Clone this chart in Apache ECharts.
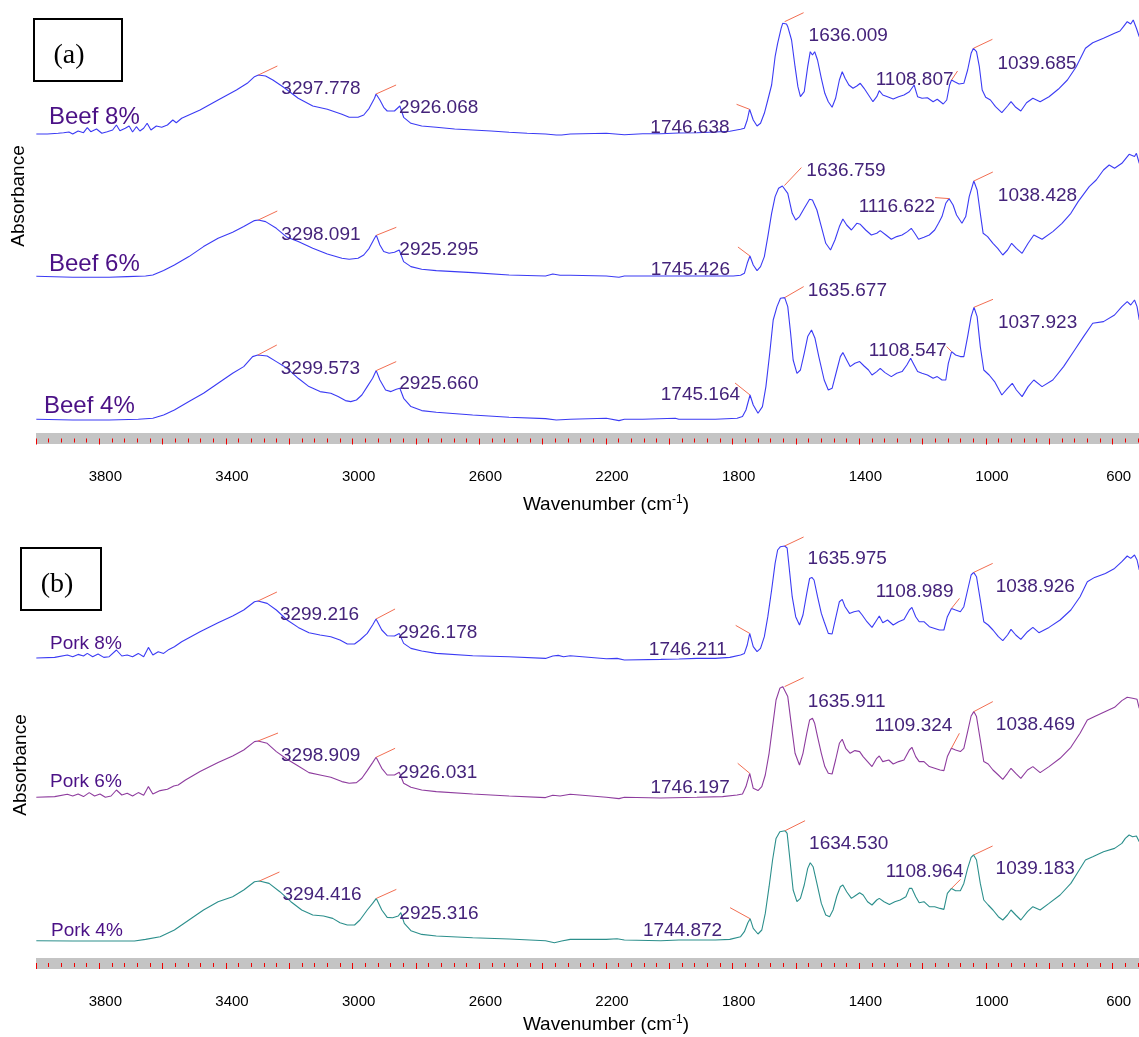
<!DOCTYPE html>
<html>
<head>
<meta charset="utf-8">
<script src="https://cdn.jsdelivr.net/npm/echarts/dist/echarts.min.js"></script>
<style>
  html, body { margin: 0; padding: 0; background: #fff; }
  #chart { width: 1139px; height: 1037px; }
</style>
</head>
<body>
<div id="chart"></div>
<script>
// FTIR spectra, [wavenumber (cm-1), absorbance above each trace's own baseline]

const beef8 = [[3999,0],[3964,0],[3930,0.007],[3913,0.013],[3896,0.02],[3884,0],[3867,0.03],[3850,0.013],[3838,0.063],[3827,0.023],[3809,0.05],[3792,0.007],[3775,0.023],[3758,0.04],[3746,0.09],[3735,0.033],[3718,0.057],[3706,0.08],[3695,0.02],[3683,0.073],[3672,0.03],[3660,0.057],[3649,0.107],[3637,0.04],[3620,0.08],[3603,0.067],[3585,0.09],[3568,0.14],[3557,0.113],[3540,0.157],[3482,0.24],[3425,0.34],[3367,0.44],[3333,0.507],[3310,0.573],[3297.778,0.59],[3275,0.58],[3252,0.54],[3218,0.467],[3172,0.357],[3126,0.28],[3080,0.247],[3034,0.197],[3011,0.167],[2983,0.167],[2965,0.19],[2948,0.257],[2931,0.357],[2926.068,0.4],[2914,0.34],[2902,0.267],[2891,0.23],[2868,0.23],[2851,0.28],[2839,0.167],[2816,0.107],[2782,0.08],[2736,0.067],[2678,0.05],[2621,0.04],[2563,0.03],[2506,0.017],[2449,0.007],[2391,0],[2357,-0.01],[2340,-0.01],[2313,0],
  [2199,0.007],[2142,-0.007],[2084,0.003],[2027,0.003],[1970,0.01],[1913,0.013],[1855,0.02],[1809,0.027],[1775,0.047],[1763,0.057],[1754,0.14],[1746.638,0.247],[1735,0.14],[1723,0.08],[1712,0.107],[1700,0.207],[1689,0.34],[1677,0.49],[1666,0.773],[1658,0.907],[1647,1.057],[1642,1.107],[1636.009,1.123],[1630,1.1],[1626,1.073],[1614,0.94],[1603,0.673],[1594,0.473],[1586,0.373],[1574,0.423],[1563,0.673],[1555,0.823],[1548,0.79],[1541,0.823],[1532,0.74],[1520,0.557],[1509,0.407],[1498,0.323],[1486,0.267],[1475,0.357],[1463,0.54],[1454,0.623],[1445,0.557],[1433,0.49],[1420,0.457],[1408,0.48],[1397,0.507],[1385,0.457],[1371,0.39],[1357,0.323],[1345,0.373],[1337,0.433],[1326,0.39],[1311,0.373],[1293,0.35],[1276,0.373],[1259,0.39],[1242,0.423],[1227,0.49],[1216,0.373],[1202,0.357],[1185,0.363],[1167,0.323],[1154,0.347],[1135,0.3],[1124,0.34],[1115,0.49],[1108.807,0.54],[1099,0.523],[1085,0.5],[1070,0.507],[1058,0.64],[1047,0.807],[1039.685,0.857],[1030,0.823],[1021,0.673],[1012,0.44],[1001,0.367],[986,0.34],[970,0.273],[950,0.213],[932,0.28],[921,0.323],[906,0.267],[890,0.23],[872,0.313],[852,0.357],[829,0.323],[801,0.373],[772,0.447],[743,0.54],[715,0.673],[686,0.857],[663,0.913],[629,0.957],[594,1.007],[577,1.03],[566,1.073],[554,1.123],[543,1.1],[535,1.14],[525,1.057],[516,0.973]];

const beef6 = [[3999,0],[3884,-0.01],[3769,-0.01],[3712,-0.003],[3654,0.003],[3631,0.013],[3597,0.057],[3563,0.113],[3517,0.197],[3471,0.297],[3425,0.38],[3379,0.44],[3344,0.497],[3310,0.557],[3298.091,0.563],[3275,0.547],[3241,0.48],[3207,0.39],[3172,0.347],[3126,0.28],[3080,0.223],[3034,0.18],[3011,0.17],[2983,0.18],[2965,0.213],[2948,0.28],[2931,0.38],[2925.295,0.41],[2914,0.313],[2902,0.247],[2885,0.23],[2868,0.24],[2853,0.263],[2839,0.147],[2816,0.097],[2782,0.07],[2736,0.057],[2621,0.037],[2506,0.013],[2391,0.003],[2368,0.023],[2345,0.01],[2313,0.01],
  [2199,0.003],[2159,-0.01],[2142,0.003],[2084,0.003],[1970,0.003],[1855,0.003],[1798,0.003],[1775,0.01],[1763,0.03],[1754,0.13],[1745.426,0.203],[1735,0.113],[1723,0.057],[1712,0.097],[1700,0.197],[1689,0.397],[1677,0.63],[1666,0.797],[1655,0.88],[1643,0.903],[1636.759,0.907],[1626,0.83],[1612,0.63],[1601,0.563],[1589,0.597],[1574,0.68],[1557,0.77],[1548,0.763],[1534,0.663],[1520,0.497],[1506,0.33],[1491,0.263],[1477,0.363],[1463,0.497],[1452,0.573],[1440,0.513],[1425,0.463],[1408,0.53],[1397,0.52],[1380,0.463],[1362,0.413],[1345,0.43],[1334,0.457],[1316,0.413],[1299,0.37],[1282,0.397],[1265,0.413],[1248,0.447],[1236,0.48],[1225,0.43],[1213,0.37],[1196,0.39],[1179,0.413],[1162,0.463],[1150,0.53],[1139,0.597],[1127,0.73],[1116.622,0.777],[1104,0.713],[1093,0.613],[1076,0.53],[1064,0.597],[1053,0.797],[1038.428,0.953],[1028,0.863],[1018,0.63],[1009,0.43],[995,0.397],[978,0.33],[963,0.28],[947,0.213],[932,0.263],[919,0.33],[904,0.28],[886,0.23],[867,0.33],[849,0.413],[823,0.37],[789,0.447],[760,0.53],[732,0.63],[709,0.747],[674,0.897],[652,0.963],[629,1.063],[611,1.113],[594,1.08],[571,1.13],[548,1.22],[531,1.197],[525,1.23],[516,1.13]];

const beef4 = [[3999,0],[3884,-0.007],[3769,-0.007],[3677,0],[3631,0.01],[3597,0.043],[3563,0.093],[3517,0.177],[3471,0.26],[3425,0.36],[3379,0.46],[3344,0.527],[3316,0.627],[3299.573,0.643],[3270,0.633],[3241,0.577],[3207,0.51],[3172,0.41],[3138,0.327],[3103,0.277],[3069,0.26],[3046,0.227],[3023,0.187],[3006,0.177],[2988,0.193],[2971,0.243],[2954,0.327],[2937,0.41],[2925.660,0.487],[2914,0.393],[2896,0.293],[2879,0.277],[2862,0.3],[2851,0.31],[2839,0.21],[2816,0.127],[2782,0.087],[2736,0.07],[2621,0.043],[2506,0.02],[2391,0.007],[2357,-0.007],[2313,0],
  [2199,0.01],[2159,-0.013],[2142,0],[2084,0],[1981,0.01],[1970,0],[1855,0],[1786,0.01],[1769,0.027],[1758,0.093],[1745.164,0.243],[1735,0.143],[1720,0.06],[1706,0.127],[1695,0.327],[1683,0.66],[1672,0.993],[1660,1.127],[1649,1.21],[1635.677,1.217],[1626,1.127],[1617,0.86],[1609,0.593],[1597,0.46],[1586,0.493],[1574,0.66],[1563,0.827],[1551,0.893],[1540,0.81],[1528,0.627],[1511,0.393],[1498,0.293],[1486,0.31],[1471,0.493],[1460,0.627],[1452,0.667],[1440,0.593],[1429,0.527],[1414,0.56],[1399,0.577],[1385,0.533],[1371,0.493],[1360,0.443],[1345,0.477],[1334,0.51],[1319,0.467],[1299,0.427],[1282,0.46],[1265,0.477],[1250,0.543],[1238,0.61],[1227,0.543],[1216,0.477],[1202,0.46],[1185,0.443],[1167,0.41],[1154,0.427],[1139,0.393],[1127,0.393],[1119,0.56],[1108.547,0.677],[1096,0.643],[1081,0.627],[1070,0.627],[1058,0.827],[1047,1.027],[1037.923,1.12],[1028,1.027],[1018,0.727],[1007,0.493],[990,0.443],[973,0.377],[950,0.243],[932,0.31],[917,0.36],[904,0.293],[886,0.227],[867,0.327],[849,0.393],[823,0.327],[789,0.393],[755,0.527],[720,0.693],[692,0.827],[663,0.96],[629,0.977],[594,1.043],[571,1.127],[554,1.177],[543,1.143],[531,1.193],[523,1.127],[516,0.993]];

const pork8 = [[3999,0.007],[3941,0.013],[3901,0.037],[3884,0.02],[3867,0.043],[3850,0.027],[3838,0.053],[3821,0.02],[3804,0.047],[3786,0.013],[3769,0.02],[3746,0.087],[3729,0.027],[3712,0.037],[3695,0.02],[3677,0.053],[3660,0.02],[3645,0.113],[3631,0.037],[3614,0.07],[3597,0.053],[3580,0.093],[3563,0.12],[3540,0.17],[3482,0.27],[3425,0.36],[3379,0.427],[3344,0.487],[3310,0.57],[3299.216,0.577],[3270,0.553],[3241,0.487],[3207,0.387],[3172,0.313],[3138,0.26],[3103,0.237],[3069,0.22],[3040,0.187],[3017,0.147],[2994,0.147],[2977,0.187],[2954,0.253],[2937,0.337],[2926.178,0.397],[2908,0.287],[2891,0.23],[2868,0.227],[2853,0.253],[2839,0.153],[2816,0.103],[2782,0.077],[2736,0.053],[2621,0.03],[2506,0.02],[2391,0.003],[2368,0.027],[2351,0.033],[2334,0.02],[2313,0.03],
  [2199,0],[2165,0.003],[2142,-0.013],[2027,-0.007],[1970,-0.003],[1913,0.003],[1855,0.003],[1809,0.013],[1775,0.037],[1763,0.053],[1754,0.137],[1746.211,0.253],[1735,0.12],[1723,0.07],[1712,0.103],[1700,0.22],[1689,0.42],[1677,0.687],[1666,0.953],[1658,1.087],[1649,1.12],[1635.975,1.127],[1628,1.107],[1624,0.987],[1612,0.62],[1601,0.42],[1589,0.337],[1578,0.437],[1566,0.653],[1557,0.803],[1550,0.813],[1543,0.787],[1532,0.62],[1520,0.453],[1511,0.37],[1498,0.253],[1486,0.247],[1475,0.403],[1463,0.57],[1454,0.593],[1445,0.52],[1431,0.453],[1417,0.47],[1402,0.48],[1391,0.437],[1376,0.37],[1360,0.313],[1345,0.387],[1337,0.427],[1326,0.36],[1311,0.387],[1293,0.337],[1276,0.37],[1259,0.393],[1242,0.487],[1234,0.513],[1222,0.42],[1211,0.37],[1196,0.37],[1179,0.32],[1162,0.303],[1147,0.287],[1133,0.287],[1122,0.42],[1108.989,0.503],[1096,0.487],[1081,0.47],[1070,0.52],[1058,0.687],[1047,0.837],[1038.926,0.863],[1030,0.82],[1018,0.587],[1007,0.37],[993,0.337],[978,0.287],[961,0.22],[947,0.18],[932,0.237],[921,0.293],[906,0.237],[890,0.193],[869,0.27],[852,0.313],[833,0.26],[801,0.313],[766,0.387],[732,0.487],[703,0.62],[680,0.77],[657,0.813],[623,0.853],[594,0.903],[571,0.97],[554,1.027],[543,1.003],[531,1.037],[523,0.987],[516,0.887]];

const pork6 = [[3999,0],[3941,0.007],[3901,0.03],[3884,0.013],[3867,0.033],[3850,0.007],[3832,0.047],[3815,0.013],[3798,0.033],[3781,0],[3763,0.013],[3746,0.073],[3729,0.023],[3712,0.04],[3695,0.013],[3677,0.047],[3660,0.02],[3645,0.107],[3631,0.033],[3608,0.067],[3585,0.08],[3565,0.113],[3551,0.123],[3528,0.173],[3482,0.257],[3425,0.347],[3379,0.413],[3344,0.473],[3310,0.557],[3298.909,0.563],[3270,0.54],[3241,0.457],[3207,0.38],[3172,0.313],[3138,0.247],[3103,0.223],[3069,0.2],[3034,0.157],[3011,0.14],[2988,0.147],[2971,0.19],[2954,0.267],[2937,0.347],[2926.031,0.4],[2908,0.29],[2891,0.223],[2868,0.223],[2853,0.25],[2839,0.14],[2816,0.1],[2782,0.073],[2736,0.057],[2621,0.033],[2506,0.013],[2391,-0.003],[2368,0.02],[2345,0.013],[2313,0.03],
  [2199,0],[2159,-0.013],[2142,0],[2027,-0.007],[1913,0],[1832,0.007],[1786,0.023],[1769,0.033],[1758,0.107],[1746.197,0.24],[1735,0.09],[1720,0.067],[1708,0.107],[1697,0.223],[1685,0.44],[1674,0.707],[1663,0.973],[1651,1.09],[1642,1.107],[1635.911,1.107],[1626,1.007],[1614,0.707],[1603,0.44],[1589,0.323],[1578,0.44],[1566,0.64],[1557,0.773],[1548,0.79],[1541,0.74],[1532,0.607],[1520,0.44],[1509,0.307],[1498,0.24],[1486,0.233],[1475,0.373],[1463,0.54],[1454,0.58],[1443,0.49],[1429,0.44],[1414,0.467],[1399,0.457],[1388,0.407],[1374,0.357],[1360,0.307],[1345,0.39],[1337,0.413],[1326,0.357],[1307,0.373],[1293,0.333],[1276,0.357],[1259,0.373],[1242,0.473],[1234,0.5],[1222,0.407],[1211,0.357],[1196,0.357],[1179,0.307],[1162,0.29],[1145,0.273],[1133,0.267],[1122,0.407],[1109.324,0.49],[1096,0.473],[1081,0.457],[1070,0.49],[1058,0.657],[1047,0.813],[1038.469,0.857],[1030,0.807],[1018,0.573],[1007,0.357],[993,0.333],[978,0.273],[961,0.223],[947,0.18],[932,0.24],[921,0.29],[906,0.24],[890,0.19],[869,0.273],[852,0.307],[829,0.247],[801,0.307],[766,0.39],[732,0.5],[703,0.64],[680,0.773],[657,0.807],[623,0.857],[594,0.9],[571,0.967],[554,1.0],[537,0.99],[523,0.98],[516,0.89]];

const pork4 = [[3999,0],[3884,-0.003],[3769,-0.003],[3689,-0.003],[3654,0.013],[3608,0.04],[3563,0.107],[3517,0.207],[3471,0.307],[3425,0.39],[3379,0.44],[3344,0.507],[3310,0.59],[3294.416,0.597],[3264,0.573],[3230,0.49],[3195,0.39],[3161,0.307],[3126,0.257],[3092,0.247],[3063,0.223],[3040,0.18],[3017,0.157],[2994,0.157],[2977,0.207],[2954,0.307],[2937,0.373],[2925.316,0.423],[2908,0.307],[2891,0.233],[2874,0.23],[2856,0.247],[2848,0.28],[2837,0.173],[2816,0.1],[2782,0.063],[2736,0.047],[2621,0.03],[2506,0.017],[2391,0],[2363,-0.02],[2340,-0.003],[2313,0.013],
  [2199,0.013],[2165,0.02],[2142,0.007],[2027,0],[1970,0.007],[1855,0.007],[1809,0.013],[1775,0.04],[1763,0.09],[1752,0.18],[1744.872,0.22],[1735,0.123],[1720,0.067],[1708,0.107],[1697,0.273],[1685,0.54],[1674,0.807],[1663,1.023],[1651,1.09],[1634.530,1.1],[1628,1.073],[1619,0.807],[1609,0.507],[1597,0.39],[1586,0.423],[1574,0.557],[1563,0.723],[1555,0.78],[1546,0.74],[1534,0.573],[1520,0.373],[1506,0.257],[1494,0.24],[1483,0.307],[1471,0.447],[1460,0.54],[1452,0.557],[1440,0.49],[1425,0.423],[1414,0.447],[1399,0.48],[1388,0.457],[1374,0.39],[1360,0.357],[1345,0.407],[1337,0.423],[1322,0.39],[1305,0.363],[1288,0.39],[1271,0.407],[1253,0.44],[1242,0.523],[1234,0.523],[1222,0.44],[1211,0.38],[1196,0.39],[1179,0.34],[1162,0.34],[1145,0.323],[1133,0.313],[1122,0.473],[1108.964,0.523],[1096,0.5],[1081,0.5],[1070,0.573],[1058,0.723],[1047,0.833],[1039.183,0.857],[1030,0.807],[1018,0.573],[1007,0.407],[993,0.357],[978,0.307],[961,0.24],[947,0.207],[932,0.257],[921,0.307],[906,0.257],[890,0.207],[869,0.29],[852,0.34],[829,0.307],[801,0.373],[766,0.457],[732,0.573],[709,0.69],[686,0.807],[663,0.84],[629,0.89],[594,0.923],[571,0.973],[560,1.023],[548,1.057],[537,1.04],[525,1.047],[516,0.99]];

// Picked peak positions (cm-1) for each trace
const beef8Peaks = [3297.778, 2926.068, 1746.638, 1636.009, 1108.807, 1039.685];
const beef6Peaks = [3298.091, 2925.295, 1745.426, 1636.759, 1116.622, 1038.428];
const beef4Peaks = [3299.573, 2925.660, 1745.164, 1635.677, 1108.547, 1037.923];
const pork8Peaks = [3299.216, 2926.178, 1746.211, 1635.975, 1108.989, 1038.926];
const pork6Peaks = [3298.909, 2926.031, 1746.197, 1635.911, 1109.324, 1038.469];
const pork4Peaks = [3294.416, 2925.316, 1744.872, 1634.530, 1108.964, 1039.183];

// Axis tick labels shown
const tickLabels = [3800, 3400, 3000, 2600, 2200, 1800, 1400, 1000, 600];

// ---- presentation ----
const FONT = '"Liberation Sans", Arial, sans-serif';
const PEAK_TEXT = '#44237a';
const NAME_TEXT = '#4b1186';
const MARK = '#f26e52';

// vertical stacking of the traces inside each panel (axis units)
const traces = [
  { name: 'Beef 8%', data: beef8, peaks: beef8Peaks, panel: 0, shift: 3.045, color: '#3b3bf4' },
  { name: 'Beef 6%', data: beef6, peaks: beef6Peaks, panel: 0, shift: 1.622, color: '#3b3bf4' },
  { name: 'Beef 4%', data: beef4, peaks: beef4Peaks, panel: 0, shift: 0.192, color: '#3b3bf4' },
  { name: 'Pork 8%', data: pork8, peaks: pork8Peaks, panel: 1, shift: 3.043, color: '#3b3bf4' },
  { name: 'Pork 6%', data: pork6, peaks: pork6Peaks, panel: 1, shift: 1.657, color: '#8e3c9e' },
  { name: 'Pork 4%', data: pork4, peaks: pork4Peaks, panel: 1, shift: 0.223, color: '#2c8f8c' }
];

// peak callout geometry, in pixels from the peak: [lineDx, lineDy, textDx, textDy, align]
const calloutLayout = [
  [[19,-9,23,14,'left'],[20,-9,23,14,'left'],[-13,-5,-20,18,'right'],[19,-9,24,14,'left'],[6,-9,2,0,'right'],[19,-9,24,15,'left']],
  [[19,-9,23,15,'left'],[20,-8,23,14,'left'],[-12,-9,-20,14,'right'],[17,-18,22,-15,'left'],[-14,-1,-14,8,'right'],[19,-9,24,15,'left']],
  [[19,-10,23,14,'left'],[20,-9,23,13,'left'],[-15,-12,-10,0,'right'],[19,-11,23,-7,'left'],[-5,-5,-5,-1,'right'],[19,-8,24,15,'left']],
  [[19,-9,22,14,'left'],[19,-10,22,14,'left'],[-14,-8,-23,16,'right'],[19,-9,23,13,'left'],[8,-10,2,-17,'right'],[19,-9,22,14,'left']],
  [[20,-8,23,15,'left'],[19,-9,22,15,'left'],[-12,-10,-20,14,'right'],[19,-9,23,15,'left'],[8,-15,1,-23,'right'],[19,-10,22,13,'left']],
  [[20,-9,23,14,'left'],[20,-9,23,15,'left'],[-20,-11,-28,12,'right'],[20,-10,24,13,'left'],[9,-9,12,-17,'right'],[19,-9,22,14,'left']]
];

// name tags: [left x, middle y, font size]
const nameTagLayout = [[49,117,24],[49,264,24],[44,406,24],[50,644,19],[50,782,19],[51,931,19]];

function xAxisFor(gridIndex, nameGap) {
  return {
    type: 'value', gridIndex: gridIndex,
    min: 400, max: 4000, interval: 200, inverse: true,
    axisLine: { show: true, onZero: false, lineStyle: { color: '#c4c4c4', width: 11, cap: 'butt' } },
    axisTick: { show: true, inside: false, length: 6, lineStyle: { color: '#f00000', width: 1 } },
    minorTick: { show: true, splitNumber: 5, length: 4, lineStyle: { color: '#f00000', width: 1 } },
    splitLine: { show: false },
    minorSplitLine: { show: false },
    axisLabel: {
      color: '#000', fontSize: 15, fontFamily: FONT, margin: 31, padding: [0, 0, 0, 12],
      hideOverlap: false,
      formatter: function (v) { return tickLabels.indexOf(v) >= 0 ? String(v) : ''; }
    },
    name: '{t|Wavenumber (cm}{s|-1}{t|)}',
    nameLocation: 'middle', nameGap: nameGap,
    nameTextStyle: {
      rich: {
        t: { fontSize: 19, fontFamily: FONT, color: '#000', lineHeight: 22 },
        s: { fontSize: 12, fontFamily: FONT, color: '#000', lineHeight: 12, verticalAlign: 'top' }
      }
    }
  };
}

function valueAt(data, w) {
  for (const p of data) { if (p[0] === w) return p[1]; }
  return 0;
}

const series = [];
traces.forEach(function (tr, i) {
  series.push({
    name: tr.name, type: 'line',
    xAxisIndex: tr.panel, yAxisIndex: tr.panel,
    data: tr.data.map(function (p) { return [p[0], p[1] + tr.shift]; }),
    showSymbol: false, symbol: 'none', silent: true,
    lineStyle: { color: tr.color, width: 1.1 },
    animation: false
  });
  const layout = calloutLayout[i];
  series.push({
    type: 'custom', coordinateSystem: 'cartesian2d',
    xAxisIndex: tr.panel, yAxisIndex: tr.panel,
    silent: true, animation: false, clip: false, z: 5,
    data: tr.peaks.map(function (w) { return [w, valueAt(tr.data, w) + tr.shift]; }),
    renderItem: function (params, api) {
      const p = api.coord([api.value(0), api.value(1)]);
      const L = layout[params.dataIndex];
      return {
        type: 'group',
        children: [
          { type: 'line', shape: { x1: p[0], y1: p[1], x2: p[0] + L[0], y2: p[1] + L[1] },
            style: { stroke: MARK, lineWidth: 1 } },
          { type: 'text', x: p[0] + L[2], y: p[1] + L[3],
            style: { text: tr.peaks[params.dataIndex].toFixed(3), fill: PEAK_TEXT,
                     font: '19px ' + FONT, align: L[4], verticalAlign: 'middle' } }
        ]
      };
    }
  });
});

const graphics = [
  { type: 'rect', shape: { x: 34, y: 19, width: 88, height: 62 }, style: { fill: '#fff', stroke: '#000', lineWidth: 2 } },
  { type: 'text', x: 69, y: 56, style: { text: '(a)', font: '28px "Liberation Serif", "Times New Roman", serif', fill: '#000', align: 'center', verticalAlign: 'middle' } },
  { type: 'rect', shape: { x: 21, y: 548, width: 80, height: 62 }, style: { fill: '#fff', stroke: '#000', lineWidth: 2 } },
  { type: 'text', x: 57, y: 585, style: { text: '(b)', font: '28px "Liberation Serif", "Times New Roman", serif', fill: '#000', align: 'center', verticalAlign: 'middle' } },
  { type: 'text', x: 19, y: 196, rotation: Math.PI / 2, style: { text: 'Absorbance', font: '19px ' + FONT, fill: '#000', align: 'center', verticalAlign: 'middle' } },
  { type: 'text', x: 21, y: 765, rotation: Math.PI / 2, style: { text: 'Absorbance', font: '19px ' + FONT, fill: '#000', align: 'center', verticalAlign: 'middle' } }
];
traces.forEach(function (tr, i) {
  const t = nameTagLayout[i];
  graphics.push({ type: 'text', x: t[0], y: t[1], z: 10,
    style: { text: tr.name, font: t[2] + 'px ' + FONT, fill: NAME_TEXT, align: 'left', verticalAlign: 'middle' } });
});

const chart = echarts.init(document.getElementById('chart'), null, { renderer: 'canvas' });
chart.setOption({
  backgroundColor: '#fff',
  animation: false,
  grid: [
    { left: 36, top: 0, width: 1140, height: 438.5, containLabel: false, outerBoundsMode: 'none' },
    { left: 36, top: 525, width: 1140, height: 438, containLabel: false, outerBoundsMode: 'none' }
  ],
  xAxis: [xAxisFor(0, 55), xAxisFor(1, 51)],
  yAxis: [
    { type: 'value', gridIndex: 0, min: 0, max: 4.385, show: false },
    { type: 'value', gridIndex: 1, min: 0, max: 4.38, show: false }
  ],
  graphic: graphics,
  series: series
});
</script>
</body>
</html>
